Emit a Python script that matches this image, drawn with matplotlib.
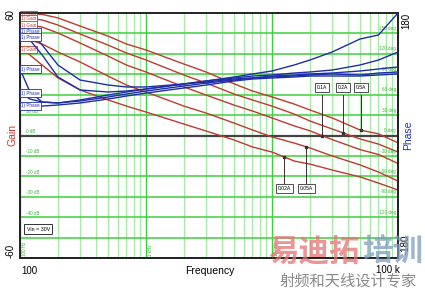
"""Loop gain / phase plot (Bode) for several load currents, Vin = 30V."""
import matplotlib
matplotlib.use("Agg")
import matplotlib.pyplot as plt
import numpy as np

plt.rcParams['font.family'] = ['Liberation Sans', 'DejaVu Sans']

# frequency points (Hz)
freq = [100, 120, 150, 200, 300, 500, 700, 1e3, 2e3, 3e3, 5e3, 7e3,
        1e4, 1.5e4, 2e4, 3e4, 5e4, 7e4, 1e5]

loads = ["0.02A", "0.05A", "0.1A", "0.2A", "0.5A"]

# gain (dB) per load
gain_002 = [42.9, 39.4, 34.5, 28.2, 22.3, 17.4, 14.4, 11.5, 5.6, 2.2, -2.2, -5.6,
            -8.1, -12.5, -14.0, -16.9, -20.3, -23.3, -26.7]
gain_005 = [47.8, 46.8, 44.8, 40.9, 36.0, 29.1, 24.7, 21.3, 14.4, 11.0, 6.1, 2.7,
            -0.7, -3.7, -6.1, -10.0, -14.4, -17.9, -22.3]
gain_01 = [54.6, 54.1, 53.1, 50.2, 45.3, 38.9, 34.5, 31.1, 23.8, 19.8, 14.9, 12.0,
           8.6, 4.7, 2.3, -2.0, -6.9, -9.3, -13.7]
gain_02 = [57.6, 57.3, 56.6, 54.1, 49.7, 44.3, 40.4, 37.0, 29.6, 25.7, 20.3, 17.4,
           14.4, 10.5, 7.1, 3.2, -1.7, -4.2, -8.1]
gain_05 = [60.0, 59.8, 59.3, 57.6, 53.6, 48.7, 44.8, 41.9, 35.0, 31.1, 25.3, 21.8,
           18.9, 15.4, 12.5, 8.6, 2.7, 0.8, -3.6]

# phase (deg) per load
phase_002 = [155.0, 150.6, 133.0, 103.6, 81.5, 74.2, 71.3, 71.3, 75.7, 80.1, 86.0, 90.4,
             94.8, 103.6, 110.9, 122.7, 141.8, 147.7, 180.0]
phase_005 = [146.2, 140.3, 118.3, 86.0, 66.9, 63.9, 65.4, 68.3, 75.7, 80.1, 84.5, 87.4,
             88.9, 91.8, 93.3, 96.2, 103.6, 110.9, 122.7]
phase_01 = [97.7, 63.9, 49.2, 47.8, 52.2, 59.5, 63.9, 68.3, 75.7, 78.6, 83.0, 84.5,
            87.4, 88.9, 90.4, 91.8, 94.8, 97.7, 100.7]
phase_02 = [62.4, 53.6, 49.2, 47.8, 50.7, 56.6, 61.0, 65.4, 72.7, 77.1, 81.5, 84.5,
            86.0, 87.4, 88.9, 90.4, 88.9, 91.8, 93.3]
phase_05 = [41.9, 41.9, 43.3, 44.8, 47.8, 53.6, 58.0, 62.4, 69.8, 74.2, 80.1, 83.0,
            84.5, 86.0, 87.4, 87.4, 87.4, 88.9, 90.4]

# cursor markers: frequency where each load's gain trace is tagged
marker_freq = [12.5e3, 18.7e3, 25.1e3, 36.8e3, 51e3]

# trace tags at the left edge
gain_tag_db = [59.3, 57.1, 54.1, 42.0]
phase_tag_deg = [152.1, 144.7, 97.7, 62.4, 43.5]

gain_grid = list(range(-50, 60, 10))
gain_grid_labels = [10, 0, -10, -20, -30, -40]
phase_grid_labels = [150, 120, 90, 60, 30, 0, -30, -60, -90, -120]
freq_labels = {100: "100 Hz", 1000: "1 kHz", 10000: "10 kHz"}

RED = "#bf3a2e"
BLUE = "#1f2ea8"
GREEN = "#3fd03f"
LGREEN = "#a6e8a6"
TXTGREEN = "#38b838"

fig = plt.figure(figsize=(4.25, 2.89), dpi=100)
ax = fig.add_axes([20 / 425, 31 / 289, 378 / 425, 245 / 289])
ax.set_xscale("log")
ax.set_xlim(100, 1e5)
ax.set_ylim(-60, 60)
ax2 = ax.twinx()
ax2.set_ylim(-180, 180)
for a in (ax, ax2):
    a.xaxis.set_major_locator(matplotlib.ticker.NullLocator())
    a.xaxis.set_minor_locator(matplotlib.ticker.NullLocator())
    a.yaxis.set_major_locator(matplotlib.ticker.NullLocator())
    a.yaxis.set_minor_locator(matplotlib.ticker.NullLocator())
    for s in a.spines.values():
        s.set_linewidth(1.3)
        s.set_color("#222222")
ax.spines["top"].set_color("#555555")

# grid
for d in [100, 1000, 10000]:
    for k in range(1, 10):
        f = d * k
        if k == 1:
            ax.axvline(f, color=GREEN, lw=1.0, zorder=1)
        else:
            ax.axvline(f, color=LGREEN, lw=0.9, zorder=1)
for g in gain_grid:
    if g == 0:
        ax.axhline(g, color="#444444", lw=1.6, zorder=2)
    else:
        ax.axhline(g, color=GREEN, lw=1.1, zorder=1)

for g in gain_grid_labels:
    ax.text(112, g + 0.7, f"{g} dB", fontsize=3.3, color=TXTGREEN, ha="left", va="bottom", zorder=3)
for p in phase_grid_labels:
    ax2.text(9.6e4, p + 3.5, f"{p} deg", fontsize=3.3, color=TXTGREEN, ha="right", va="bottom", zorder=3)
for f, lab in freq_labels.items():
    ax.text(f * 1.03, -59, lab, fontsize=3.3, color=TXTGREEN, rotation=90, ha="left", va="bottom", zorder=3)

gains = [gain_002, gain_005, gain_01, gain_02, gain_05]
phases = [phase_002, phase_005, phase_01, phase_02, phase_05]
for g in gains:
    ax.plot(freq, g, color=RED, lw=1.0, zorder=4)
for p in phases:
    ax2.plot(freq, p, color=BLUE, lw=1.0, zorder=4)

# cursor tags
box = dict(boxstyle="square,pad=0.35", fc="white", ec="#333333", lw=0.6)
logf = np.log10(freq)
for i, (lab, mf) in enumerate(zip(loads, marker_freq)):
    gy = np.interp(np.log10(mf), logf, gains[i])
    ty = -26.0 if i < 2 else 23.5
    end = -23.3 if i < 2 else 20.0
    ax.plot([mf, mf], [end, gy], color="#333333", lw=0.7, zorder=5)
    ax.plot([mf], [gy], marker="s", ms=1.5, color="#333333", zorder=5)
    ax.text(mf, ty, lab, fontsize=3.6, ha="center", va="center", bbox=box, zorder=6)

gbox = dict(boxstyle="square,pad=0.25", fc="white", ec=RED, lw=0.6)
for g in gain_tag_db:
    ax.text(102, g, "1) Gain", fontsize=3.3, color=RED, ha="left", va="center", bbox=gbox, zorder=6)
pbox = dict(boxstyle="square,pad=0.25", fc="white", ec=BLUE, lw=0.6)
for p in phase_tag_deg:
    ax2.text(102, p, "1) Phase", fontsize=3.3, color=BLUE, ha="left", va="center", bbox=pbox, zorder=6)

ax.text(140, -45.8, "Vin = 30V", fontsize=3.8, ha="center", va="center",
        bbox=dict(boxstyle="square,pad=0.45", fc="white", ec="#333333", lw=0.7), zorder=6)

# axis texts
fig.text(12 / 425, 1 - 135 / 289, "Gain", color="#d03030", fontsize=7.5, rotation=90, ha="center", va="center")
fig.text(408 / 425, 1 - 135 / 289, "Phase", color="#2030c0", fontsize=7.5, rotation=90, ha="center", va="center")
fig.text(10 / 425, 1 - 15 / 289, "60", fontsize=7, rotation=90, ha="center", va="center")
fig.text(11 / 425, 1 - 251 / 289, "-60", fontsize=7, rotation=90, ha="center", va="center")
fig.text(406 / 425, 1 - 21 / 289, "180", fontsize=7, rotation=90, ha="center", va="center")
fig.text(406 / 425, 1 - 244 / 289, "-180", fontsize=7, rotation=90, ha="center", va="center")
fig.text(29 / 425, 1 - 271 / 289, "100", fontsize=7, ha="center", va="center")
fig.text(388 / 425, 1 - 270 / 289, "100 k", fontsize=7, ha="center", va="center")
fig.text(210 / 425, 1 - 271 / 289, "Frequency", fontsize=7.5, ha="center", va="center")

# watermark
cjk = ["Noto Sans CJK SC", "DejaVu Sans"]
fig.text(268 / 425, 1 - 252 / 289, "易迪拓", family=cjk, fontsize=22, fontweight="bold",
         color="#e57373", alpha=0.75, ha="left", va="center")
fig.text(362 / 425, 1 - 252 / 289, "培训", family=cjk, fontsize=22, fontweight="bold",
         color="#7f9bbf", alpha=0.75, ha="left", va="center")
fig.text(348 / 425, 1 - 281 / 289, "射频和天线设计专家", family=cjk, fontsize=11,
         color="#8a8a8a", ha="center", va="center")

fig.savefig("out.png", dpi=100)
